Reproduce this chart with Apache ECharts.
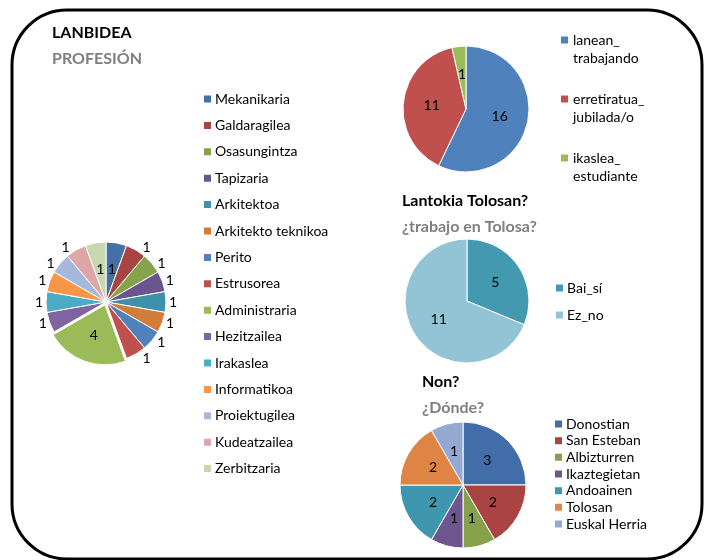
<!DOCTYPE html>
<html><head><meta charset="utf-8">
<script src="https://cdn.jsdelivr.net/npm/echarts@6/dist/echarts.min.js"></script>
<style>html,body{margin:0;padding:0;background:#fff}#c{width:704px;height:560px}</style>
</head><body><div id="c"></div>
<script>
// Profession pie
const profCats = ['Mekanikaria','Galdaragilea','Osasungintza','Tapizaria','Arkitektoa','Arkitekto teknikoa','Perito','Estrusorea','Administraria','Hezitzailea','Irakaslea','Informatikoa','Proiektugilea','Kudeatzailea','Zerbitzaria'];
const profVals = [1,1,1,1,1,1,1,1,4,1,1,1,1,1,1];
const profColors = ['#4470A5','#A84442','#86A24A','#6B5590','#3D91A8','#D17D39','#4F81BD','#C0504D','#9BBB59','#8064A2','#4BACC6','#F79646','#A7B9DA','#DCA7A6','#C8D8AD'];
// Status pie
const statCats = ['lanean_\ntrabajando','erretiratua_\njubilada/o','ikaslea_\nestudiante'];
const statVals = [16,11,1];
const statColors = ['#4F81BD','#C0504D','#9BBB59'];
// Work in Tolosa pie
const tolCats = ['Bai_sí','Ez_no'];
const tolVals = [5,11];
const tolColors = ['#4399B0','#93C4D6'];
// Where pie
const whereCats = ['Donostian','San Esteban','Albizturren','Ikaztegietan','Andoainen','Tolosan','Euskal Herria'];
const whereVals = [3,2,1,1,2,2,1];
const whereColors = ['#416EA8','#A94442','#87A14B','#6E5690','#3F97AF','#DE8444','#94A9D1'];

const FONT = 'Lato';
const chart = echarts.init(document.getElementById('c'));
function mk(cats, vals, colors){ return cats.map((n,i)=>({name:n, value:vals[i], itemStyle:{color:colors[i]}})); }
const profData = mk(profCats, profVals, profColors);
profData.forEach((d,i)=>{ if(i===8 || i===0 || i===14){ d.label={position:'inside'}; } });
profData[8].selected = true;

const lbl = {color:'#000', fontFamily:FONT, fontSize:14};
function title(txt, x, y, col){
  return {type:'text', x:x, y:y, style:{text:txt, font:'bold 16px Lato', fill:col, verticalAlign:'middle'}};
}
const legTS = {fontFamily:FONT, fontSize:14, color:'#000', padding:[0,0,0,-2]};
chart.setOption({
  animation:false,
  textStyle:{fontFamily:FONT},
  graphic:[
    {type:'rect', shape:{x:12,y:10,width:690,height:549,r:55}, style:{fill:'none', stroke:'#000', lineWidth:3}},
    title('LANBIDEA', 52, 33, '#000'),
    title('PROFESIÓN', 52, 59, '#7F7F7F'),
    title('Lantokia Tolosan?', 402, 201, '#000'),
    title('¿trabajo en Tolosa?', 402, 227, '#7F7F7F'),
    title('Non?', 422, 382, '#000'),
    title('¿Dónde?', 422, 408, '#7F7F7F')
  ],
  legend:[
    {data:profCats, left:202, top:92, padding:0, orient:'vertical', itemWidth:9, itemHeight:9, itemGap:12.4, icon:'rect', textStyle:legTS},
    {data:statCats, left:559, top:13, padding:0, orient:'vertical', itemWidth:9, itemHeight:9, itemGap:5, icon:'rect',
     formatter: n => ' \n' + n,
     textStyle:{fontFamily:FONT, fontSize:14, color:'#000', lineHeight:18, padding:[0,0,0,-1]}},
    {data:tolCats, left:554, top:281, padding:0, orient:'vertical', itemWidth:9, itemHeight:9, itemGap:13, icon:'rect', textStyle:legTS},
    {data:whereCats, left:553, top:417, padding:0, orient:'vertical', itemWidth:9, itemHeight:9, itemGap:2.67, icon:'rect', textStyle:legTS}
  ],
  series:[
    {type:'pie', center:[106,302], radius:[0,60], startAngle:90, selectedMode:'single', selectedOffset:3,
     data:profData, itemStyle:{borderColor:'#fff', borderWidth:1},
     label:{show:true, formatter:'{c}', position:'outside', ...lbl},
     labelLine:{show:false, length:3, length2:0}, silent:true},
    {type:'pie', center:[466,109], radius:[0,63], startAngle:90, data:mk(statCats,statVals,statColors),
     itemStyle:{borderColor:'#fff', borderWidth:1},
     label:{show:true, position:'inside', formatter:'{c}', ...lbl}, labelLine:{show:false}, silent:true},
    {type:'pie', center:[467,301], radius:[0,62], startAngle:90, data:mk(tolCats,tolVals,tolColors),
     itemStyle:{borderColor:'#fff', borderWidth:1},
     label:{show:true, position:'inside', formatter:'{c}', ...lbl}, labelLine:{show:false}, silent:true},
    {type:'pie', center:[463,485], radius:[0,63], startAngle:90, data:mk(whereCats,whereVals,whereColors),
     itemStyle:{borderColor:'#fff', borderWidth:1},
     label:{show:true, position:'inside', formatter:'{c}', ...lbl}, labelLine:{show:false}, silent:true}
  ]
});
</script></body></html>
